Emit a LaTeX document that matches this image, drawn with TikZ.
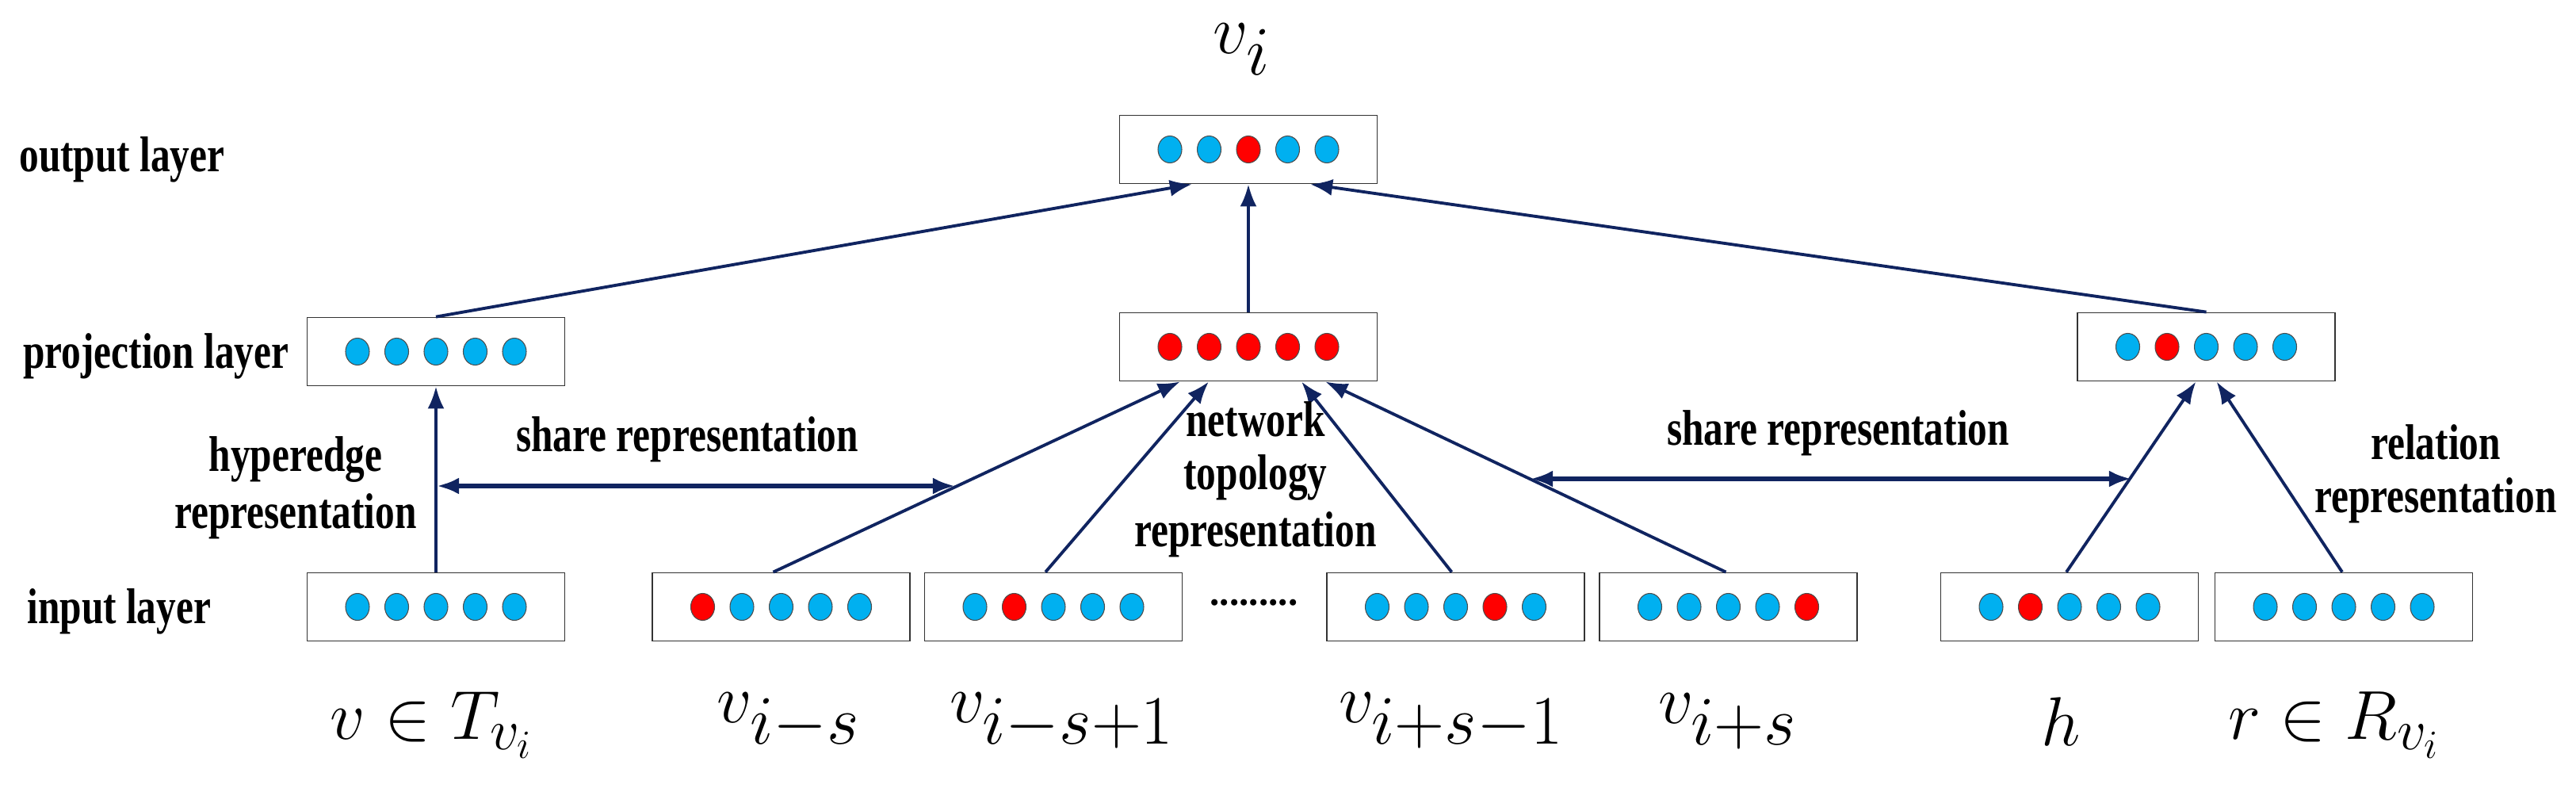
\documentclass[tikz,border=0pt]{standalone}
\usepackage{fontspec}
\setmainfont{Liberation Serif}
\newfontfamily\condfont{Liberation Serif}[FakeStretch=0.78]
\usetikzlibrary{arrows.meta,calc,shapes.geometric}
\definecolor{cb}{RGB}{0,176,240}
\definecolor{cr}{RGB}{255,0,0}
\definecolor{navy}{RGB}{16,36,96}
\newcommand{\layerbox}[4]{%
  \node[box] (#1) at (#2,#3) {};
  \foreach \c [count=\k] in {#4} {\node[dot,fill=\c] at ($(#1)+(\k*0.495-1.485,0)$) {};}
}
\begin{document}
\begin{tikzpicture}[>={Latex[length=8pt,width=6pt]}]
\tikzstyle{box}=[draw=black!80,line width=0.5pt,minimum width=3.25cm,minimum height=0.86cm,inner sep=0pt]
\tikzstyle{dot}=[ellipse,draw=black!70,line width=0.3pt,minimum width=0.3cm,minimum height=0.34cm,inner sep=0pt]
\tikzstyle{conn}=[->,draw=navy,line width=1.1pt]
\tikzstyle{share}=[<->,draw=navy,line width=1.8pt]
\tikzstyle{lab}=[font=\condfont\bfseries\fontsize{18}{16}\selectfont,align=center]
\tikzstyle{var}=[font=\fontsize{36}{36}\selectfont]
\useasboundingbox (0,0) rectangle (32.5,-9.99);

% output layer
\layerbox{out}{15.75}{-1.885}{cb,cb,cr,cb,cb}
% projection layer
\layerbox{projL}{5.5}{-4.435}{cb,cb,cb,cb,cb}
\layerbox{projM}{15.75}{-4.375}{cr,cr,cr,cr,cr}
\layerbox{projR}{27.835}{-4.375}{cb,cr,cb,cb,cb}
% input layer
\layerbox{inT}{5.5}{-7.655}{cb,cb,cb,cb,cb}
\layerbox{inA}{9.855}{-7.655}{cr,cb,cb,cb,cb}
\layerbox{inB}{13.29}{-7.655}{cb,cr,cb,cb,cb}
\layerbox{inC}{18.365}{-7.655}{cb,cb,cb,cr,cb}
\layerbox{inD}{21.805}{-7.655}{cb,cb,cb,cb,cr}
\layerbox{inH}{26.11}{-7.655}{cb,cr,cb,cb,cb}
\layerbox{inR}{29.57}{-7.655}{cb,cb,cb,cb,cb}
\node[font=\bfseries\fontsize{14}{14}\selectfont] (dots) at (15.82,-7.6) {.........};

% layer names
\node[lab,anchor=west] (lo) at (0.12,-2.01) {output layer};
\node[lab,anchor=west] (lp) at (0.17,-4.49) {projection layer};
\node[lab,anchor=west] (li) at (0.22,-7.71) {input layer};

% connectors
\draw[conn] (projL.north) -- ([xshift=-0.71cm]out.south);
\draw[conn] (projM.north) -- (out.south);
\draw[conn] (projR.north) -- ([xshift=0.78cm]out.south);
\draw[conn] (inT.north) -- (projL.south);
\draw[conn] ([xshift=-0.1cm]inA.north) -- ([xshift=-0.86cm]projM.south);
\draw[conn] ([xshift=-0.1cm]inB.north) -- ([xshift=-0.5cm]projM.south);
\draw[conn] ([xshift=-0.05cm]inC.north) -- ([xshift=0.67cm]projM.south);
\draw[conn] ([xshift=-0.03cm]inD.north) -- ([xshift=0.97cm]projM.south);
\draw[conn] ([xshift=-0.04cm]inH.north) -- ([xshift=-0.13cm]projR.south);
\draw[conn] ([xshift=-0.02cm]inR.north) -- ([xshift=0.13cm]projR.south);
\coordinate (s1) at (5.51,-6.13);
\coordinate (s2) at (12.05,-6.13);
\coordinate (s3) at (19.31,-6.04);
\coordinate (s4) at (26.89,-6.04);
\draw[share] (s1) -- (s2);
\draw[share] (s3) -- (s4);

% annotations
\node[lab] (hyp) at (3.73,-6.15) {hyperedge\\[3pt]representation};
\node[lab] (sh1) at (8.67,-5.54) {share representation};
\node[lab] (net) at (15.84,-6.05) {network\\[3pt]topology\\[3pt]representation};
\node[lab] (sh2) at (23.19,-5.46) {share representation};
\node[lab] (rel) at (30.73,-5.98) {relation\\[3pt]representation};

% variable labels
\node[var] (vi) at (15.67,-0.62) {$v_{i}$};
\node[var,font=\fontsize{30}{30}\selectfont] (vT) at (5.45,-9.15) {$v\in T_{v_i}$};
\node[var] (vA) at (9.95,-9.1) {$v_{i-s}$};
\node[var] (vB) at (13.4,-9.1) {$v_{i-s+1}$};
\node[var] (vC) at (18.31,-9.1) {$v_{i+s-1}$};
\node[var] (vD) at (21.8,-9.1) {$v_{i+s}$};
\node[var,font=\fontsize{30}{30}\selectfont] (vh) at (26.0,-9.1) {$h$};
\node[var,font=\fontsize{30}{30}\selectfont] (vr) at (29.45,-9.15) {$r\in R_{v_i}$};
\end{tikzpicture}
\end{document}
